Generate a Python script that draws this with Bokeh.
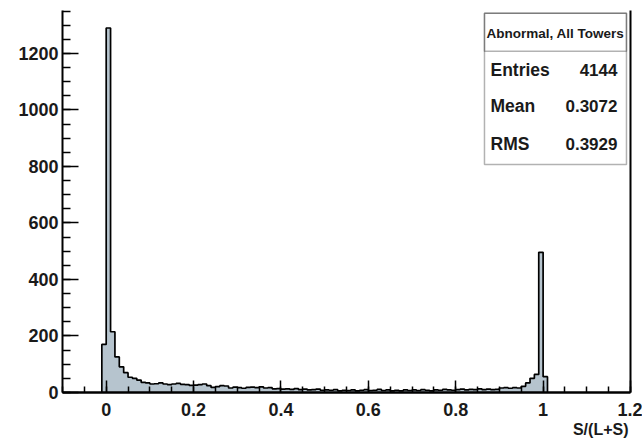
import numpy as np
from bokeh.plotting import figure
from bokeh.models import FixedTicker, LinearAxis, BoxAnnotation, Label, Range1d, Title
from bokeh.embed import file_html
from bokeh.resources import INLINE

# ---- data ----
bin_width = 0.01
first_bin_low = -0.01
counts = [
    170, 1290, 215, 126, 91, 70, 54, 50, 44, 36, 34,          # -0.01 .. 0.09
    30, 31, 34, 30, 28, 30, 32, 29, 28, 25,                   # 0.10 .. 0.19
    26, 28, 30, 24, 18, 21, 24, 23, 16, 19,                   # 0.20 .. 0.29
    17, 15, 18, 19, 17, 20, 16, 17, 13, 14,                   # 0.30 .. 0.39
    12, 13, 11, 14, 10, 12, 9, 10, 12, 8,                     # 0.40 .. 0.49
    9, 8, 10, 6, 8, 7, 9, 6, 8, 10,                           # 0.50 .. 0.59
    7, 8, 11, 7, 9, 6, 8, 6, 9, 7,                            # 0.60 .. 0.69
    9, 7, 10, 8, 6, 9, 8, 11, 9, 8,                           # 0.70 .. 0.79
    10, 12, 9, 11, 10, 13, 10, 12, 10, 11,                    # 0.80 .. 0.89
    16, 17, 15, 17, 16, 22, 34, 50, 64, 496,                  # 0.90 .. 0.99
    56,                                                       # 1.00
]
x_ticks = [0, 0.2, 0.4, 0.6, 0.8, 1, 1.2]
x_tick_labels = ["0", "0.2", "0.4", "0.6", "0.8", "1", "1.2"]
y_ticks = [0, 200, 400, 600, 800, 1000, 1200]
title_text = "Abnormal, All Towers"
stat_names = ["Entries", "Mean", "RMS"]
stat_values = ["4144", "0.3072", "0.3929"]
x_label = "S/(L+S)"

x_min, x_max = -0.1, 1.2
y_min, y_max = 0, 1352

counts = np.array(counts, dtype=float)
edges = first_bin_low + bin_width * np.arange(len(counts) + 1)

FONT = "Liberation Sans"
fill = "#b6c4ce"
TXT = "#1a1a1a"

p = figure(width=642, height=440, x_range=Range1d(x_min, x_max), y_range=Range1d(y_min, y_max),
           output_backend="svg", toolbar_location=None,
           min_border_left=62, min_border_right=12, min_border_top=10, min_border_bottom=48)
p.grid.visible = False
p.outline_line_color = None
p.background_fill_color = "white"
p.border_fill_color = "white"

# histogram fill + step outline
sx = np.repeat(edges, 2)
sy = np.concatenate([[0], np.repeat(counts, 2), [0]])
p.patch(sx, sy, fill_color=fill, line_color=None)
p.line(sx, sy, line_color="black", line_width=1.7)

# x axis
xa = p.xaxis[0]
xa.ticker = FixedTicker(ticks=x_ticks, minor_ticks=list(np.round(np.arange(-0.1, 1.2001, 0.05), 3)))
xa.major_label_overrides = {t: l for t, l in zip(x_ticks, x_tick_labels)}
xa.major_tick_in = 12
xa.major_tick_out = 0
xa.minor_tick_in = 6
xa.minor_tick_out = 0
xa.axis_line_width = 2.5
xa.major_tick_line_width = 1.5
xa.minor_tick_line_width = 1.5
xa.major_label_text_font = FONT
xa.major_label_text_font_style = "bold"
xa.major_label_text_font_size = "18px"
xa.major_label_text_color = TXT
xa.major_label_standoff = 10

# x axis title, right aligned under the axis
p.add_layout(Title(text=x_label, align="right", text_font=FONT, text_font_style="bold",
                   text_font_size="16px", text_color=TXT, standoff=0, offset=2), "below")

# y axis
ya = p.yaxis[0]
ya.ticker = FixedTicker(ticks=y_ticks, minor_ticks=list(range(0, 1351, 50)))
ya.major_tick_in = 16
ya.major_tick_out = 0
ya.minor_tick_in = 8
ya.minor_tick_out = 0
ya.axis_line_width = 2
ya.major_tick_line_width = 1.5
ya.minor_tick_line_width = 1.5
ya.major_label_text_font = FONT
ya.major_label_text_font_style = "bold"
ya.major_label_text_font_size = "18px"
ya.major_label_text_color = TXT
ya.major_label_standoff = 4

# right frame edge
ra = LinearAxis(ticker=FixedTicker(ticks=[]), major_label_text_font_size="0px",
                major_tick_in=0, major_tick_out=0, minor_tick_in=0, minor_tick_out=0,
                axis_line_width=2, major_label_standoff=0)
p.add_layout(ra, "right")

# stats box
bx_l, bx_r, bx_t, bx_b, bx_sep = 0.8658, 1.1908, 1342, 807, 1208
p.add_layout(BoxAnnotation(left=bx_l, right=bx_r, top=bx_t, bottom=bx_b, fill_color="white",
                           fill_alpha=1, line_color="black", line_width=1.5, level="overlay"))
p.add_layout(BoxAnnotation(left=bx_l, right=bx_r, top=bx_t, bottom=bx_sep, fill_alpha=0,
                           line_color="black", line_width=1.5, level="overlay"))
p.add_layout(Label(x=(bx_l + bx_r) / 2, y=1272, text=title_text, text_align="center",
                   text_baseline="middle", text_font=FONT, text_font_style="bold",
                   text_font_size="13.5px", text_color=TXT, level="overlay"))
for name, val, yy in zip(stat_names, stat_values, [1141, 1014, 880]):
    p.add_layout(Label(x=0.8796, y=yy, text=name, text_align="left", text_baseline="middle",
                       text_font=FONT, text_font_style="bold", text_font_size="17.5px",
                       text_color=TXT, level="overlay"))
    p.add_layout(Label(x=1.1702, y=yy, text=val, text_align="right", text_baseline="middle",
                       text_font=FONT, text_font_style="bold", text_font_size="17px",
                       text_color=TXT, level="overlay"))

open("out.html", "w").write(file_html(p, INLINE))
